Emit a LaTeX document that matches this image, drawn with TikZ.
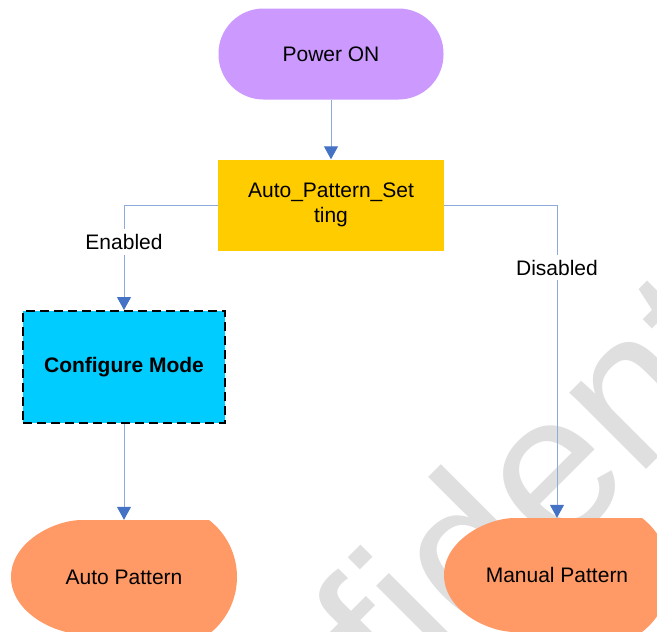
\documentclass[tikz,border=0pt]{standalone}
\usepackage{fontspec}
\setmainfont{Liberation Sans}
\usepackage{tikz}
\usetikzlibrary{arrows.meta}

\definecolor{startfill}{HTML}{CC99FF}
\definecolor{setfill}{HTML}{FFCC00}
\definecolor{modefill}{HTML}{00CCFF}
\definecolor{patfill}{HTML}{FF9966}
\definecolor{linkblue}{HTML}{8EA9DB}
\definecolor{tipblue}{HTML}{4472C4}
\definecolor{markgray}{HTML}{DFDFDF}

% flowchart "display" outline round a centre point
\newcommand{\displayfill}[1]{%
  \fill [patfill, shift={(#1)}]
    (-42,-57) -- (85,-57)
    .. controls (102.7,-43.4) and (113,-22.3) .. (113,0)
    .. controls (113,22.3) and (102.7,43.4) .. (85,57)
    -- (-42,57)
    .. controls (-70,57) and (-113,35) .. (-113,0)
    .. controls (-113,-35) and (-70,-57) .. (-42,-57) -- cycle;}

\tikzset{
  every node/.style={font=\fontsize{21}{25}\selectfont, inner sep=0pt},
  link/.style={draw=linkblue, line width=1pt,
    -{Triangle[length=13pt, width=14pt, color=tipblue]}},
  tag/.style={fill=white, inner xsep=1pt, inner ysep=5pt},
  display/.style={minimum width=226pt, minimum height=114pt},
}

\begin{document}
\begin{tikzpicture}[x=1pt, y=-1pt]
\useasboundingbox (0,0) rectangle (657,632);
\clip (0,0) rectangle (657,632);

\node [rotate=45, anchor=base west, text=markgray,
  font=\fontsize{205}{205}\selectfont] (mark) at (137,979) {Confidential};

\node [fill=startfill, rounded corners=45pt, minimum width=225pt,
  minimum height=91pt] (power) at (331,54) {Power ON};
\node [fill=setfill, minimum width=226pt, minimum height=91pt,
  align=center] (apset) at (331,205) {Auto\_Pattern\_Set\\ting};
\node [fill=modefill, draw=black, line width=2pt,
  dash pattern=on 9pt off 5pt, minimum width=202pt, minimum height=112pt,
  font=\fontsize{21}{25}\selectfont\bfseries] (cfgmode) at (124,367) {Configure Mode};

\coordinate (apc) at (124,577);
\coordinate (mpc) at (557,575);
\displayfill{apc}
\displayfill{mpc}
\node [display] (autopat) at (apc) {Auto Pattern};
\node [display] (manpat) at (mpc) {Manual Pattern};

\draw [link] (power) -- (apset);
\draw [link] (apset.west) -| node [tag, pos=0.676] {Enabled} (cfgmode);
\draw [link] (apset.east) -| node [tag, pos=0.6] {Disabled} (manpat);
\draw [link] (cfgmode) -- (autopat);
\end{tikzpicture}
\end{document}
